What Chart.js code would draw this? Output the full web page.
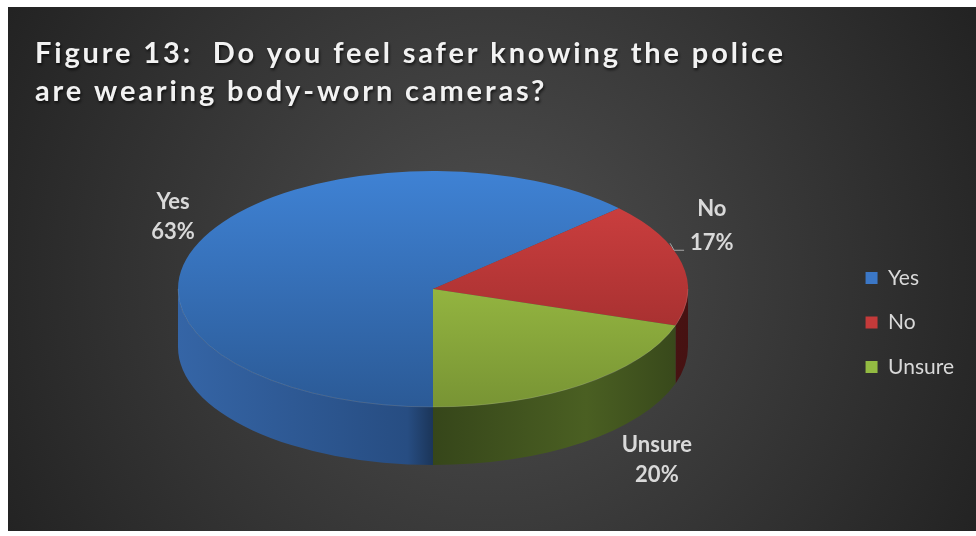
<!DOCTYPE html>
<html>
<head>
<meta charset="utf-8">
<script src="https://cdn.jsdelivr.net/npm/chart.js@4.4.1/dist/chart.umd.min.js"></script>
<style>
  html, body { margin: 0; padding: 0; background: #ffffff; }
  #wrap { width: 976px; height: 536px; position: relative; }
</style>
</head>
<body>
<div id="wrap"><canvas id="c" width="976" height="536"></canvas></div>
<script>
// ---- data ----
const categories = ['Yes', 'No', 'Unsure'];
const percentages = [63, 17, 20];
const titleLines = ['Figure 13:  Do you feel safer knowing the police', 'are wearing body-worn cameras?'];

// ---- style ----
const topColors = [['#3f82d4', '#2b5a96'], ['#d44242', '#922828'], ['#aed44c', '#789434']];
const sideColors = [['#3565a6', '#274d82', '#1b3559'], ['#5e1a1a', '#521616', '#461212'], ['#34441a', '#4a5f22', '#36461a']];
const legendColors = ['#3b77c6', '#c43a3a', '#93bb42'];
const labelOffsets = [[-26, -25], [30, -37], [74, 17]];
const CX = 433, CY = 289, RX = 255, RY = 118, DEPTH = 58;
const FONT = 'Lato, "Open Sans", sans-serif';

const bgPlugin = {
  id: 'bg',
  beforeDraw(chart) {
    const ctx = chart.ctx;
    ctx.save();
    ctx.fillStyle = '#ffffff';
    ctx.fillRect(0, 0, chart.width, chart.height);
    const g = ctx.createRadialGradient(490, 275, 0, 490, 275, 560);
    g.addColorStop(0, '#4f4f4f');
    g.addColorStop(1, '#222222');
    ctx.fillStyle = g;
    ctx.fillRect(8, 7, chart.width - 8, 524);
    // title
    ctx.font = 'bold 29px ' + FONT;
    ctx.letterSpacing = '0px';
    const w = ctx.measureText(titleLines[0]).width;
    const ls = Math.max(0.5, (748 - w) / (titleLines[0].length - 1));
    ctx.letterSpacing = ls.toFixed(2) + 'px';
    ctx.fillStyle = '#f2f2f2';
    ctx.shadowColor = 'rgba(0,0,0,0.7)';
    ctx.shadowBlur = 3;
    ctx.shadowOffsetX = 1;
    ctx.shadowOffsetY = 2;
    ctx.textBaseline = 'alphabetic';
    ctx.textAlign = 'left';
    ctx.fillText(titleLines[0], 35, 63);
    ctx.fillText(titleLines[1], 35, 101);
    ctx.restore();
  }
};

function frontRanges(s, e) {
  const out = [];
  for (const base of [0, 2 * Math.PI, -2 * Math.PI]) {
    const a = Math.max(s, base), b = Math.min(e, base + Math.PI);
    if (b > a) out.push([a - base, b - base]);
  }
  return out;
}

const pie3d = {
  id: 'pie3d',
  beforeDatasetsDraw(chart) {
    const ctx = chart.ctx;
    const arcs = chart.getDatasetMeta(0).data;
    ctx.save();
    arcs.forEach((arc, i) => {
      frontRanges(arc.startAngle, arc.endAngle).forEach(([a, b]) => {
        const g = ctx.createLinearGradient(CX - RX, 0, CX + RX, 0);
        g.addColorStop(0, sideColors[i][0]);
        g.addColorStop(0.45, sideColors[i][1]);
        g.addColorStop(0.5, sideColors[i][2]);
        g.addColorStop(0.8, sideColors[i][1]);
        g.addColorStop(1, sideColors[i][2]);
        ctx.fillStyle = g;
        ctx.beginPath();
        ctx.ellipse(CX, CY, RX, RY, 0, a, b, false);
        ctx.ellipse(CX, CY + DEPTH, RX, RY, 0, b, a, true);
        ctx.closePath();
        ctx.fill();
      });
    });
    ctx.restore();
    const a0 = arcs[0];
    ctx.save();
    ctx.translate(CX, CY);
    ctx.scale(RX / a0.outerRadius, RY / a0.outerRadius);
    ctx.translate(-a0.x, -a0.y);
  },
  afterDatasetsDraw(chart) {
    const ctx = chart.ctx;
    ctx.restore();
    // rim highlight
    ctx.save();
    ctx.strokeStyle = 'rgba(255,255,255,0.12)';
    ctx.lineWidth = 1;
    ctx.beginPath();
    ctx.ellipse(CX, CY, RX, RY, 0, 0, Math.PI, false);
    ctx.stroke();
    ctx.restore();
    // data labels
    const arcs = chart.getDatasetMeta(0).data;
    ctx.save();
    ctx.font = 'bold 22px ' + FONT;
    ctx.fillStyle = '#d9d9d9';
    ctx.textAlign = 'center';
    ctx.textBaseline = 'middle';
    arcs.forEach((arc, i) => {
      const mid = (arc.startAngle + arc.endAngle) / 2;
      const s = Math.sin(mid);
      const x = CX + RX * Math.cos(mid) + labelOffsets[i][0];
      const y = CY + RY * s + (s > 0 ? DEPTH : 0) + labelOffsets[i][1];
      const gap = i === 1 ? 34 : 30;
      ctx.fillText(categories[i], x, y - gap / 2);
      ctx.fillText(percentages[i] + '%', x, y + gap / 2);
      if (i === 1) {
        const tw = ctx.measureText(percentages[i] + '%').width;
        const lx = x - tw / 2 - 6;
        const ly = y + gap / 2 + 7;
        ctx.strokeStyle = '#a6a6a6';
        ctx.lineWidth = 1;
        ctx.beginPath();
        ctx.moveTo(lx - 14, ly - 7);
        ctx.lineTo(lx - 10, ly);
        ctx.lineTo(lx, ly);
        ctx.stroke();
      }
    });
    ctx.restore();
  }
};

new Chart(document.getElementById('c'), {
  type: 'pie',
  data: {
    labels: categories,
    datasets: [{
      data: percentages,
      borderWidth: 0,
      clip: false,
      backgroundColor: (c) => {
        const i = c.dataIndex;
        const a = c.chart.chartArea;
        if (!a || i === undefined) return legendColors[i || 0];
        const cy = (a.top + a.bottom) / 2;
        const r = Math.min(a.right - a.left, a.bottom - a.top) / 2;
        const g = c.chart.ctx.createLinearGradient(0, cy - r, 0, cy + r);
        g.addColorStop(0, topColors[i][0]);
        g.addColorStop(1, topColors[i][1]);
        return g;
      }
    }]
  },
  options: {
    responsive: false,
    animation: false,
    rotation: 180,
    layout: { padding: { top: 109, right: 12, left: 0, bottom: 0 } },
    plugins: {
      title: { display: false },
      tooltip: { enabled: false },
      legend: {
        position: 'right',
        labels: {
          color: '#d9d9d9',
          font: { family: FONT, size: 21 },
          boxWidth: 12,
          boxHeight: 12,
          padding: 23.5,
          generateLabels(chart) {
            return categories.map((t, i) => ({
              text: t, fillStyle: legendColors[i], strokeStyle: legendColors[i],
              lineWidth: 0, hidden: false, index: i, fontColor: '#d9d9d9'
            }));
          }
        }
      }
    }
  },
  plugins: [bgPlugin, pie3d]
});
</script>
</body>
</html>
